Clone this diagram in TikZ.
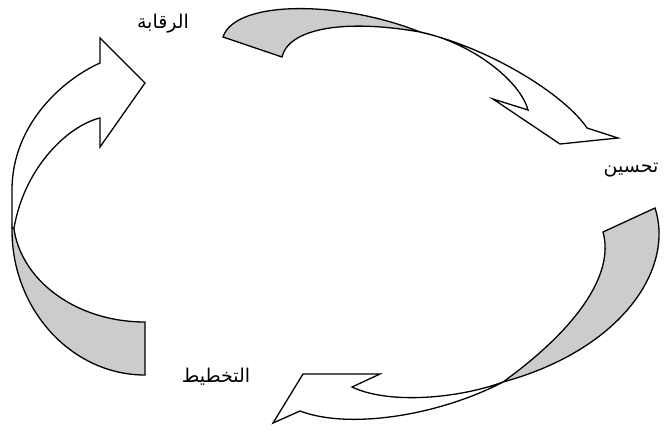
\documentclass[tikz,border=0pt]{standalone}
\usepackage{fontspec}
\TeXXeTstate=1
\newfontfamily\arabicfont[Script=Arabic]{DejaVu Sans}
\definecolor{backgray}{RGB}{204,204,204}
\tikzset{
  backpart/.style={draw=black, fill=backgray, line width=1.3pt, line join=miter},
  frontpart/.style={draw=black, fill=white, line width=1.3pt, line join=miter},
  lbl/.style={font=\arabicfont\fontsize{19}{22}\selectfont, inner sep=0pt}
}
\begin{document}
\begin{tikzpicture}[x=1pt,y=-1pt]
\useasboundingbox (0,0) rectangle (666,432);
% left arrow (towards the top label)
\path[backpart] (13,216) .. controls (13,275) and (72,322) .. (145,322)
  -- (145,375) .. controls (72,375) and (12,310) .. (12,230) -- cycle;
\path[frontpart] (12,228) -- (12,190) .. controls (12,125) and (62,80) .. (100,63)
  -- (100,38) -- (145,83) -- (100,147) -- (100,118)
  .. controls (70,125) and (25,165) .. (14,228) -- cycle;
% top arrow (towards the right label)
\path[backpart] (223,37) .. controls (235,0) and (340,0) .. (420,32)
  .. controls (340,18) and (288,30) .. (282,57) -- cycle;
\path[frontpart] (420,32) .. controls (490,48) and (565,95) .. (587,128)
  -- (618,138) -- (560,144) -- (493,99) -- (528,110)
  .. controls (520,80) and (470,42) .. (420,32) -- cycle;
% bottom arrow (towards the bottom label)
\path[backpart] (603,232) -- (655,208) .. controls (675,270) and (620,350) .. (503,382)
  .. controls (575,330) and (615,275) .. (603,232) -- cycle;
\path[frontpart] (503,382) .. controls (440,415) and (350,430) .. (300,411)
  -- (273,423) -- (303,374) -- (380,374) -- (352,387)
  .. controls (390,405) and (460,398) .. (503,382) -- cycle;
% labels
\node[lbl] (raqaba) at (163,24) {\beginR الرقابة\endR};
\node[lbl] (tahsin) at (631,170) {\beginR تحسين\endR};
\node[lbl] (takhtit) at (216,377) {\beginR التخطيط\endR};
\end{tikzpicture}
\end{document}
